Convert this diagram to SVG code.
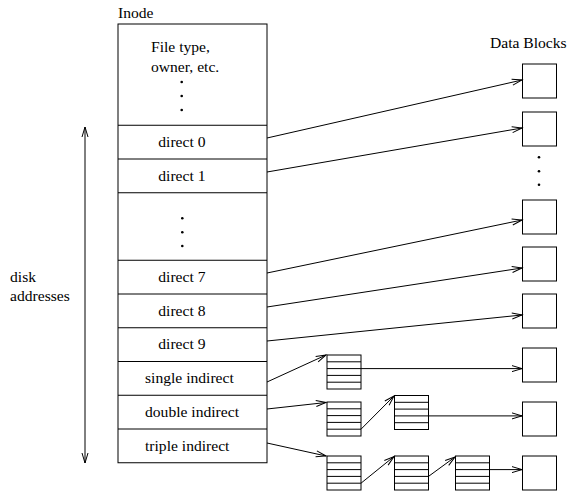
<svg xmlns="http://www.w3.org/2000/svg" xmlns:xlink="http://www.w3.org/1999/xlink" width="568" height="491" viewBox="0 0 568 491">
  <style>
    text { font-family: "Liberation Serif", "Times New Roman", serif; font-size: 15.6px; fill: #000; }
    .box { fill: #fff; stroke: #000; stroke-width: 1; }
    .div { stroke: #000; stroke-width: 1; fill: none; }
    .wire { stroke: #000; stroke-width: 1; fill: none; marker-end: url(#head); }
    .dot { fill: #000; }
  </style>
  <defs>
    <!-- open stick arrowhead -->
    <marker id="head" markerUnits="userSpaceOnUse" markerWidth="12" markerHeight="8" refX="10" refY="3" orient="auto-start-reverse" overflow="visible">
      <path d="M0,0 L10,3 L0,6" fill="none" stroke="#000" stroke-width="1"/>
    </marker>
    <!-- block of pointers: square split into five rows -->
    <g id="ptrblock">
      <rect x="0" y="0" width="34" height="34" class="box"/>
      <path class="div" d="M0,6.8 H34 M0,13.6 H34 M0,20.4 H34 M0,27.2 H34"/>
    </g>
  </defs>

  <rect width="568" height="491" fill="#fff"/>

  <!-- inode table -->
  <g id="inode">
    <text x="118" y="17.5">Inode</text>
    <rect class="box" x="118" y="24" width="149" height="438.75"/>
    <path class="div" d="M118,125.25 H267 M118,159 H267 M118,192.75 H267 M118,260.25 H267 M118,294 H267 M118,327.75 H267 M118,361.5 H267 M118,395.25 H267 M118,429 H267"/>
    <text x="151" y="52">File type,</text>
    <text x="151" y="72">owner, etc.</text>
    <circle class="dot" cx="181.7" cy="82" r="1.3"/>
    <circle class="dot" cx="181.7" cy="96" r="1.3"/>
    <circle class="dot" cx="181.7" cy="110" r="1.3"/>
    <text x="158.3" y="146.75">direct 0</text>
    <text x="158.3" y="180.5">direct 1</text>
    <circle class="dot" cx="182.3" cy="218.3" r="1.3"/>
    <circle class="dot" cx="182.3" cy="232.3" r="1.3"/>
    <circle class="dot" cx="182.3" cy="246" r="1.3"/>
    <text x="158.3" y="281.75">direct 7</text>
    <text x="158.3" y="315.5">direct 8</text>
    <text x="158.3" y="349.25">direct 9</text>
    <text x="145" y="383">single indirect</text>
    <text x="145" y="416.75">double indirect</text>
    <text x="145" y="450.5">triple indirect</text>
  </g>

  <!-- span label -->
  <g id="disk-addresses">
    <text x="10" y="281.7">disk</text>
    <text x="10" y="300.7">addresses</text>
  </g>

  <!-- data blocks -->
  <g id="data-blocks">
    <text x="490" y="48.3">Data Blocks</text>
    <rect class="box" x="522.5" y="64" width="34" height="34"/>
    <rect class="box" x="522.5" y="112" width="34" height="34"/>
    <circle class="dot" cx="539" cy="157.3" r="1.3"/>
    <circle class="dot" cx="539" cy="171.3" r="1.3"/>
    <circle class="dot" cx="539" cy="184.7" r="1.3"/>
    <rect class="box" x="522.5" y="200" width="34" height="34"/>
    <rect class="box" x="522.5" y="247" width="34" height="34"/>
    <rect class="box" x="522.5" y="294" width="34" height="34"/>
    <rect class="box" x="522.5" y="348" width="34" height="34"/>
    <rect class="box" x="522.5" y="402" width="34" height="34"/>
    <rect class="box" x="522.5" y="456" width="34" height="34"/>
  </g>

  <!-- indirect pointer blocks -->
  <g id="single-1"><use xlink:href="#ptrblock" x="327" y="355"/></g>
  <g id="double-1"><use xlink:href="#ptrblock" x="327" y="402"/></g>
  <g id="double-2"><use xlink:href="#ptrblock" x="394.5" y="395.5"/></g>
  <g id="triple-1"><use xlink:href="#ptrblock" x="327" y="456"/></g>
  <g id="triple-2"><use xlink:href="#ptrblock" x="394.5" y="456"/></g>
  <g id="triple-3"><use xlink:href="#ptrblock" x="455.5" y="456"/></g>

  <!-- connectors -->
  <g id="connectors">
    <line x1="85" y1="127" x2="85" y2="463" stroke="#000" stroke-width="1" marker-start="url(#head)" marker-end="url(#head)"/>
    <line class="wire" x1="267" y1="138" x2="522" y2="80"/>
    <line class="wire" x1="267" y1="172" x2="522" y2="128"/>
    <line class="wire" x1="267" y1="273" x2="522" y2="220"/>
    <line class="wire" x1="267" y1="307" x2="522" y2="268"/>
    <line class="wire" x1="267" y1="341" x2="522" y2="315"/>
    <line class="wire" x1="267" y1="382" x2="326" y2="355"/>
    <line class="wire" x1="361" y1="368.6" x2="522" y2="368.6"/>
    <line class="wire" x1="267" y1="409" x2="326" y2="402.5"/>
    <line class="wire" x1="361" y1="429.2" x2="394" y2="396"/>
    <line class="wire" x1="428.5" y1="415.9" x2="522" y2="415.9"/>
    <line class="wire" x1="267" y1="443" x2="326" y2="456"/>
    <line class="wire" x1="361" y1="483.2" x2="394" y2="456.5"/>
    <line class="wire" x1="428.5" y1="476.4" x2="455" y2="457"/>
    <line class="wire" x1="489.5" y1="469.6" x2="522" y2="469.6"/>
  </g>
</svg>
